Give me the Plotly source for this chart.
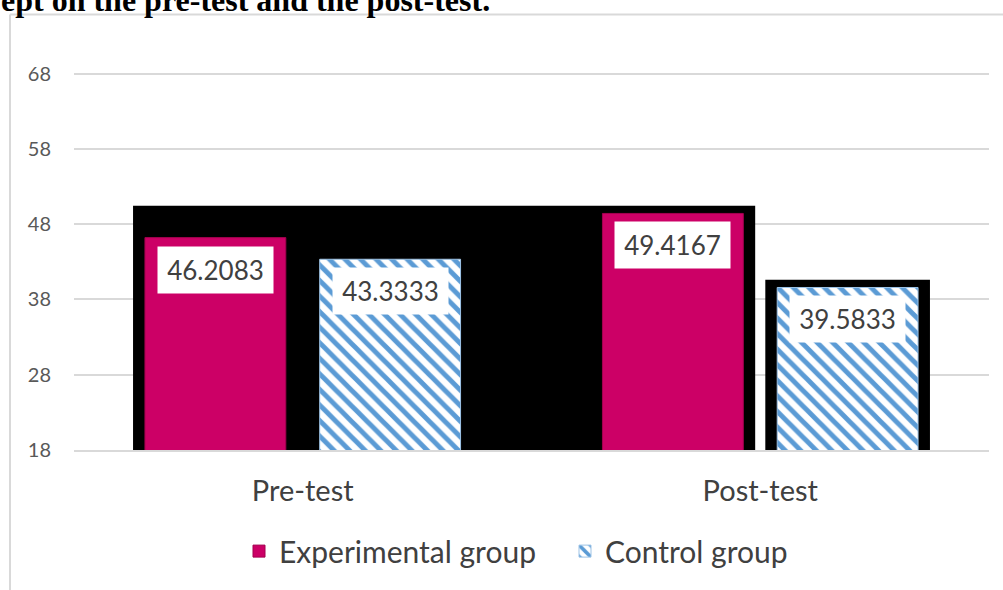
import plotly.graph_objects as go

# ---- data ----
categories = ["Pre-test", "Post-test"]
experimental = [46.2083, 49.4167]
control = [43.3333, 39.5833]
series_names = ["Experimental group", "Control group"]
y_ticks = [18, 28, 38, 48, 58, 68]
title_text = "ept on the pre-test and the post-test."

# ---- layout constants ----
W, H = 1003, 590
Y_MIN, Y_MAX = 18, 69
ML, MR, MB = 74, 14, 140
PX_PER_UNIT = 7.52
MT = round(74 - (Y_MAX - 68) * PX_PER_UNIT, 2)
PW, PH = W - ML - MR, H - MT - MB
BARGAP = 0.236
BARGROUPGAP = 0.194
SLOT = (1 - BARGAP) / 2
BAR_W = SLOT * (1 - BARGROUPGAP)
PINK = "#CC0066"
BLUE = "#5B9BD5"
FONT = "Lato"


def px_x(px):
    return (px - ML) / PW


def px_y(py):
    return (H - MB - py) / PH


fig = go.Figure()
fig.add_trace(go.Bar(
    x=categories, y=experimental, name=series_names[0],
    marker=dict(color=PINK, line=dict(color="#A3004F", width=1)),
))
fig.add_trace(go.Bar(
    x=categories, y=control, name=series_names[1],
    marker=dict(
        color="white",
        line=dict(color="#9DC3E6", width=1),
        pattern=dict(shape="\\", fgcolor=BLUE, bgcolor="white", fgopacity=1,
                     size=11, solidity=0.45),
    ),
))

# data labels (white boxes inside top of bars)
annotations = []
for si, vals in enumerate([experimental, control]):
    off = (-0.5 + si) * SLOT
    for ci, v in enumerate(vals):
        annotations.append(dict(
            x=ci + off, y=v, xref="x", yref="y", text=f"{v:.4f}",
            showarrow=False, yanchor="top", xanchor="center", yshift=-8,
            bgcolor="white", width=113, height=44,
            font=dict(family=FONT, size=26, color="#404040"),
        ))

# title fragment (cut at top of page)
annotations.append(dict(
    x=px_x(0), y=px_y(20), xref="paper", yref="paper", text="<b>" + title_text + "</b>",
    showarrow=False, xanchor="left", yanchor="bottom", borderpad=0,
    font=dict(family="Liberation Serif", size=32, color="black"),
))

shapes = []
# black highlight blocks behind the bars
pad = 0.026
top_pad = 1.03
left1 = 0 - SLOT / 2 - BAR_W / 2 - pad
right1 = 1 - SLOT / 2 + BAR_W / 2 + pad
top1 = max(experimental + [control[0]]) + top_pad
shapes.append(dict(type="rect", xref="x", yref="y", x0=left1, x1=right1, y0=17.7, y1=top1,
                   fillcolor="black", line=dict(width=0), layer="between"))
left2 = 1 + SLOT / 2 - BAR_W / 2 - pad
right2 = 1 + SLOT / 2 + BAR_W / 2 + pad
top2 = control[1] + top_pad
shapes.append(dict(type="rect", xref="x", yref="y", x0=left2, x1=right2, y0=17.7, y1=top2,
                   fillcolor="black", line=dict(width=0), layer="between"))
# chart frame (left and top borders)
shapes.append(dict(type="line", xref="paper", yref="paper", x0=px_x(10), x1=px_x(10),
                   y0=px_y(15), y1=px_y(600), line=dict(color="#D9D9D9", width=2)))
shapes.append(dict(type="line", xref="paper", yref="paper", x0=px_x(10), x1=px_x(1010),
                   y0=px_y(15), y1=px_y(15), line=dict(color="#D9D9D9", width=2)))

fig.update_layout(
    width=W, height=H,
    margin=dict(l=ML, r=MR, t=MT, b=MB, autoexpand=False),
    paper_bgcolor="white", plot_bgcolor="white",
    barmode="group", bargap=BARGAP, bargroupgap=BARGROUPGAP,
    showlegend=True,
    legend=dict(orientation="h", x=px_x(239), y=px_y(525), xanchor="left", yanchor="top",
                font=dict(family=FONT, size=30, color="#404040"),
                entrywidth=281, entrywidthmode="pixels", bgcolor="rgba(0,0,0,0)"),
    annotations=annotations,
    shapes=shapes,
    xaxis=dict(
        type="category", range=[-0.5, 1.5], showgrid=False, zeroline=False,
        showline=True, linecolor="#D9D9D9", linewidth=2,
        tickfont=dict(family=FONT, size=29, color="#404040"),
        ticks="", ticklabelstandoff=14,
    ),
    yaxis=dict(
        range=[Y_MIN, Y_MAX], tickvals=y_ticks, showgrid=True, gridcolor="#D9D9D9", gridwidth=1.5,
        zeroline=False, showline=False, ticks="",
        tickfont=dict(family=FONT, size=20, color="#595959"), ticklabelstandoff=22,
    ),
)

fig.write_html(
    "out.html",
    config={"displayModeBar": False},
    post_script="document.body.style.margin='0';document.body.style.overflow='hidden';",
)
